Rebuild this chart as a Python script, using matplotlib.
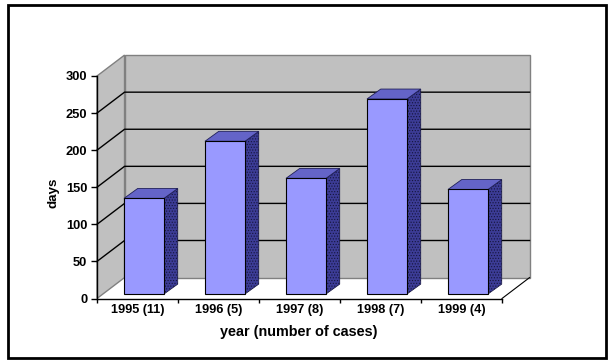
import matplotlib
matplotlib.use("Agg")
import matplotlib.pyplot as plt
from matplotlib.patches import Polygon, Rectangle

# data
years = ['1995 (11)', '1996 (5)', '1997 (8)', '1998 (7)', '1999 (4)']
days = [129, 206, 156, 263, 141]
y_ticks = [0, 50, 100, 150, 200, 250, 300]

plt.rcParams['font.family'] = ['Liberation Sans', 'DejaVu Sans']
plt.rcParams['hatch.linewidth'] = 0.5

W, H = 609, 363
fig = plt.figure(figsize=(W / 100, H / 100), dpi=100, facecolor='white')

# black frame round the whole chart
fig.add_artist(Rectangle((8 / W, 1 - 358 / H), 598 / W, 353 / H, transform=fig.transFigure,
                         fill=False, edgecolor='black', linewidth=2.0))

# axes covers the front plane of the 3d box
ax = fig.add_axes([97 / W, 1 - 298.5 / H, 405 / W, 222.5 / H])
ax.set_xlim(0, 5)
ax.set_ylim(0, 300)
ax.patch.set_visible(False)
for s in ['top', 'right']:
    ax.spines[s].set_visible(False)
ax.spines['left'].set_linewidth(1)
ax.spines['bottom'].set_linewidth(1)

# depth of the box and of the bars, in data units
box_dx, box_dy = 0.34, 28.2
bar_dx, bar_dy = 0.17, 13.4
bar_w = 0.494
bar_off = (1 - bar_w) / 2 + 0.08
base = 6

wall = '#c0c0c0'
edge = '#808080'

# walls
ax.add_patch(Polygon([(box_dx, box_dy), (5 + box_dx, box_dy), (5 + box_dx, 300 + box_dy), (box_dx, 300 + box_dy)],
                     closed=True, facecolor=wall, edgecolor=edge, linewidth=1, clip_on=False, zorder=1))
ax.add_patch(Polygon([(0, 0), (box_dx, box_dy), (box_dx, 300 + box_dy), (0, 300)],
                     closed=True, facecolor=wall, edgecolor=edge, linewidth=1, clip_on=False, zorder=1))
# floor edge
ax.plot([5, 5 + box_dx], [0, box_dy], color='black', lw=0.8, clip_on=False, zorder=2)

# grid lines
for t in y_ticks[1:-1]:
    ax.plot([0, box_dx, 5 + box_dx], [t, t + box_dy, t + box_dy], color='black', lw=1, clip_on=False, zorder=2)

# bars, each stands on the floor a bit behind the front edge
for i, v in enumerate(days):
    x0 = i + bar_off
    x1 = x0 + bar_w
    top = base + v
    ax.add_patch(Polygon([(x1, base), (x1 + bar_dx, base + bar_dy), (x1 + bar_dx, top + bar_dy), (x1, top)],
                         closed=True, facecolor='#3c3c96', edgecolor='#15153c', hatch='......',
                         linewidth=0.5, clip_on=False, zorder=3))
    ax.add_patch(Polygon([(x0, top), (x1, top), (x1 + bar_dx, top + bar_dy), (x0 + bar_dx, top + bar_dy)],
                         closed=True, facecolor='#6464c8', edgecolor='#20205a', linewidth=0.6,
                         clip_on=False, zorder=3))
    ax.add_patch(Rectangle((x0, base), bar_w, v, facecolor='#9999ff', edgecolor='black',
                           linewidth=0.8, clip_on=False, zorder=4))

ax.set_xticks(range(6))
ax.set_xticklabels([])
ax.set_yticks(y_ticks)
ax.tick_params(axis='x', length=3, width=1, direction='out')
ax.tick_params(axis='y', length=4, width=1, direction='out', labelsize=9.3, pad=3)
for lab in ax.get_yticklabels():
    lab.set_fontweight('bold')

# category labels sit between the ticks
for i, name in enumerate(years):
    ax.text(i + 0.5, -8, name, ha='center', va='top', fontsize=9.2, fontweight='bold', clip_on=False)

ax.set_xlabel('year (number of cases)', fontsize=10.4, fontweight='bold')
ax.xaxis.set_label_coords(0.497, -0.12)
ax.set_ylabel('days', fontsize=9.6, fontweight='bold')
ax.yaxis.set_label_coords(-0.092, 0.474)

fig.savefig('out.png', dpi=100, facecolor='white')
